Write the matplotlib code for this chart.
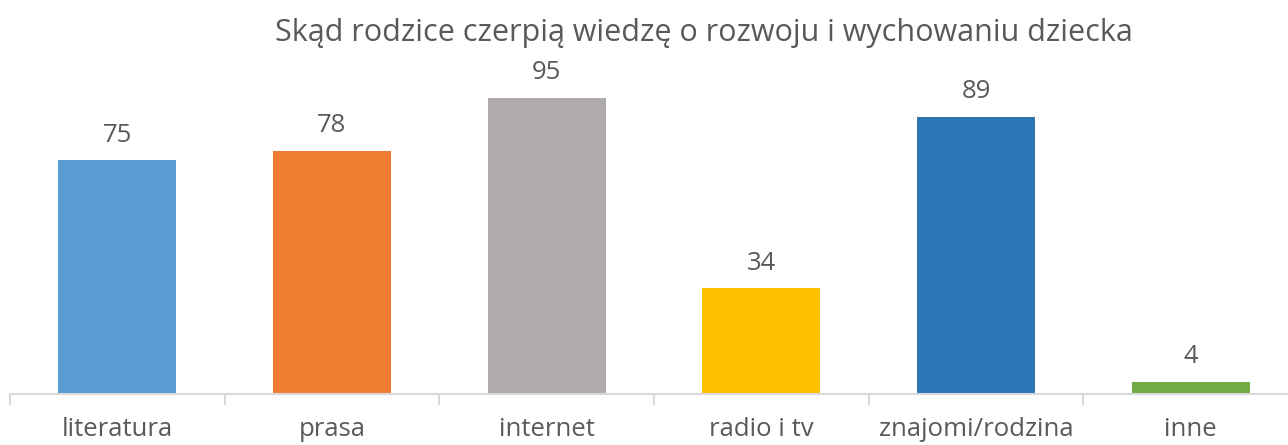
import matplotlib
matplotlib.use('Agg')
import matplotlib.pyplot as plt

# data
categories = ['literatura', 'prasa', 'internet', 'radio i tv', 'znajomi/rodzina', 'inne']
values = [75, 78, 95, 34, 89, 4]
colors = ['#5B9BD5', '#ED7D31', '#AFABAB', '#FFC000', '#2E75B6', '#70AD47']

plt.rcParams['font.family'] = ['Open Sans', 'DejaVu Sans']
textcol = '#595959'

fig = plt.figure(figsize=(12.88, 4.45), dpi=100)
ax = fig.add_axes([10 / 1288, 51 / 445, 1288 / 1288, 311.6 / 445])

x = range(len(categories))
bars = ax.bar(x, values, width=0.55, color=colors, zorder=2)

for xi, v in zip(x, values):
    ax.annotate(str(v), (xi, v), xytext=(0, 9), textcoords='offset points',
                ha='center', va='bottom', fontsize=18.5, color=textcol)

ax.set_xlim(-0.5, len(categories) - 0.5)
ax.set_ylim(0, 100)
ax.set_yticks([])
for s in ['top', 'right', 'left']:
    ax.spines[s].set_visible(False)
ax.spines['bottom'].set_color('#D9D9D9')
ax.spines['bottom'].set_linewidth(1.5)

# category ticks sit between bars
ax.set_xticks([i - 0.5 for i in range(len(categories) + 1)])
ax.set_xticklabels([])
ax.tick_params(axis='x', length=8, width=1.5, color='#D9D9D9')
for xi, c in zip(x, categories):
    ax.text(xi, -0.075, c, transform=ax.get_xaxis_transform(), ha='center', va='top',
            fontsize=18.5, color=textcol)

fig.text(704 / 1288, 1 - 33 / 445, 'Skąd rodzice czerpią wiedzę o rozwoju i wychowaniu dziecka',
         ha='center', va='center', fontsize=22, color=textcol)

fig.savefig('out.png', dpi=100)
